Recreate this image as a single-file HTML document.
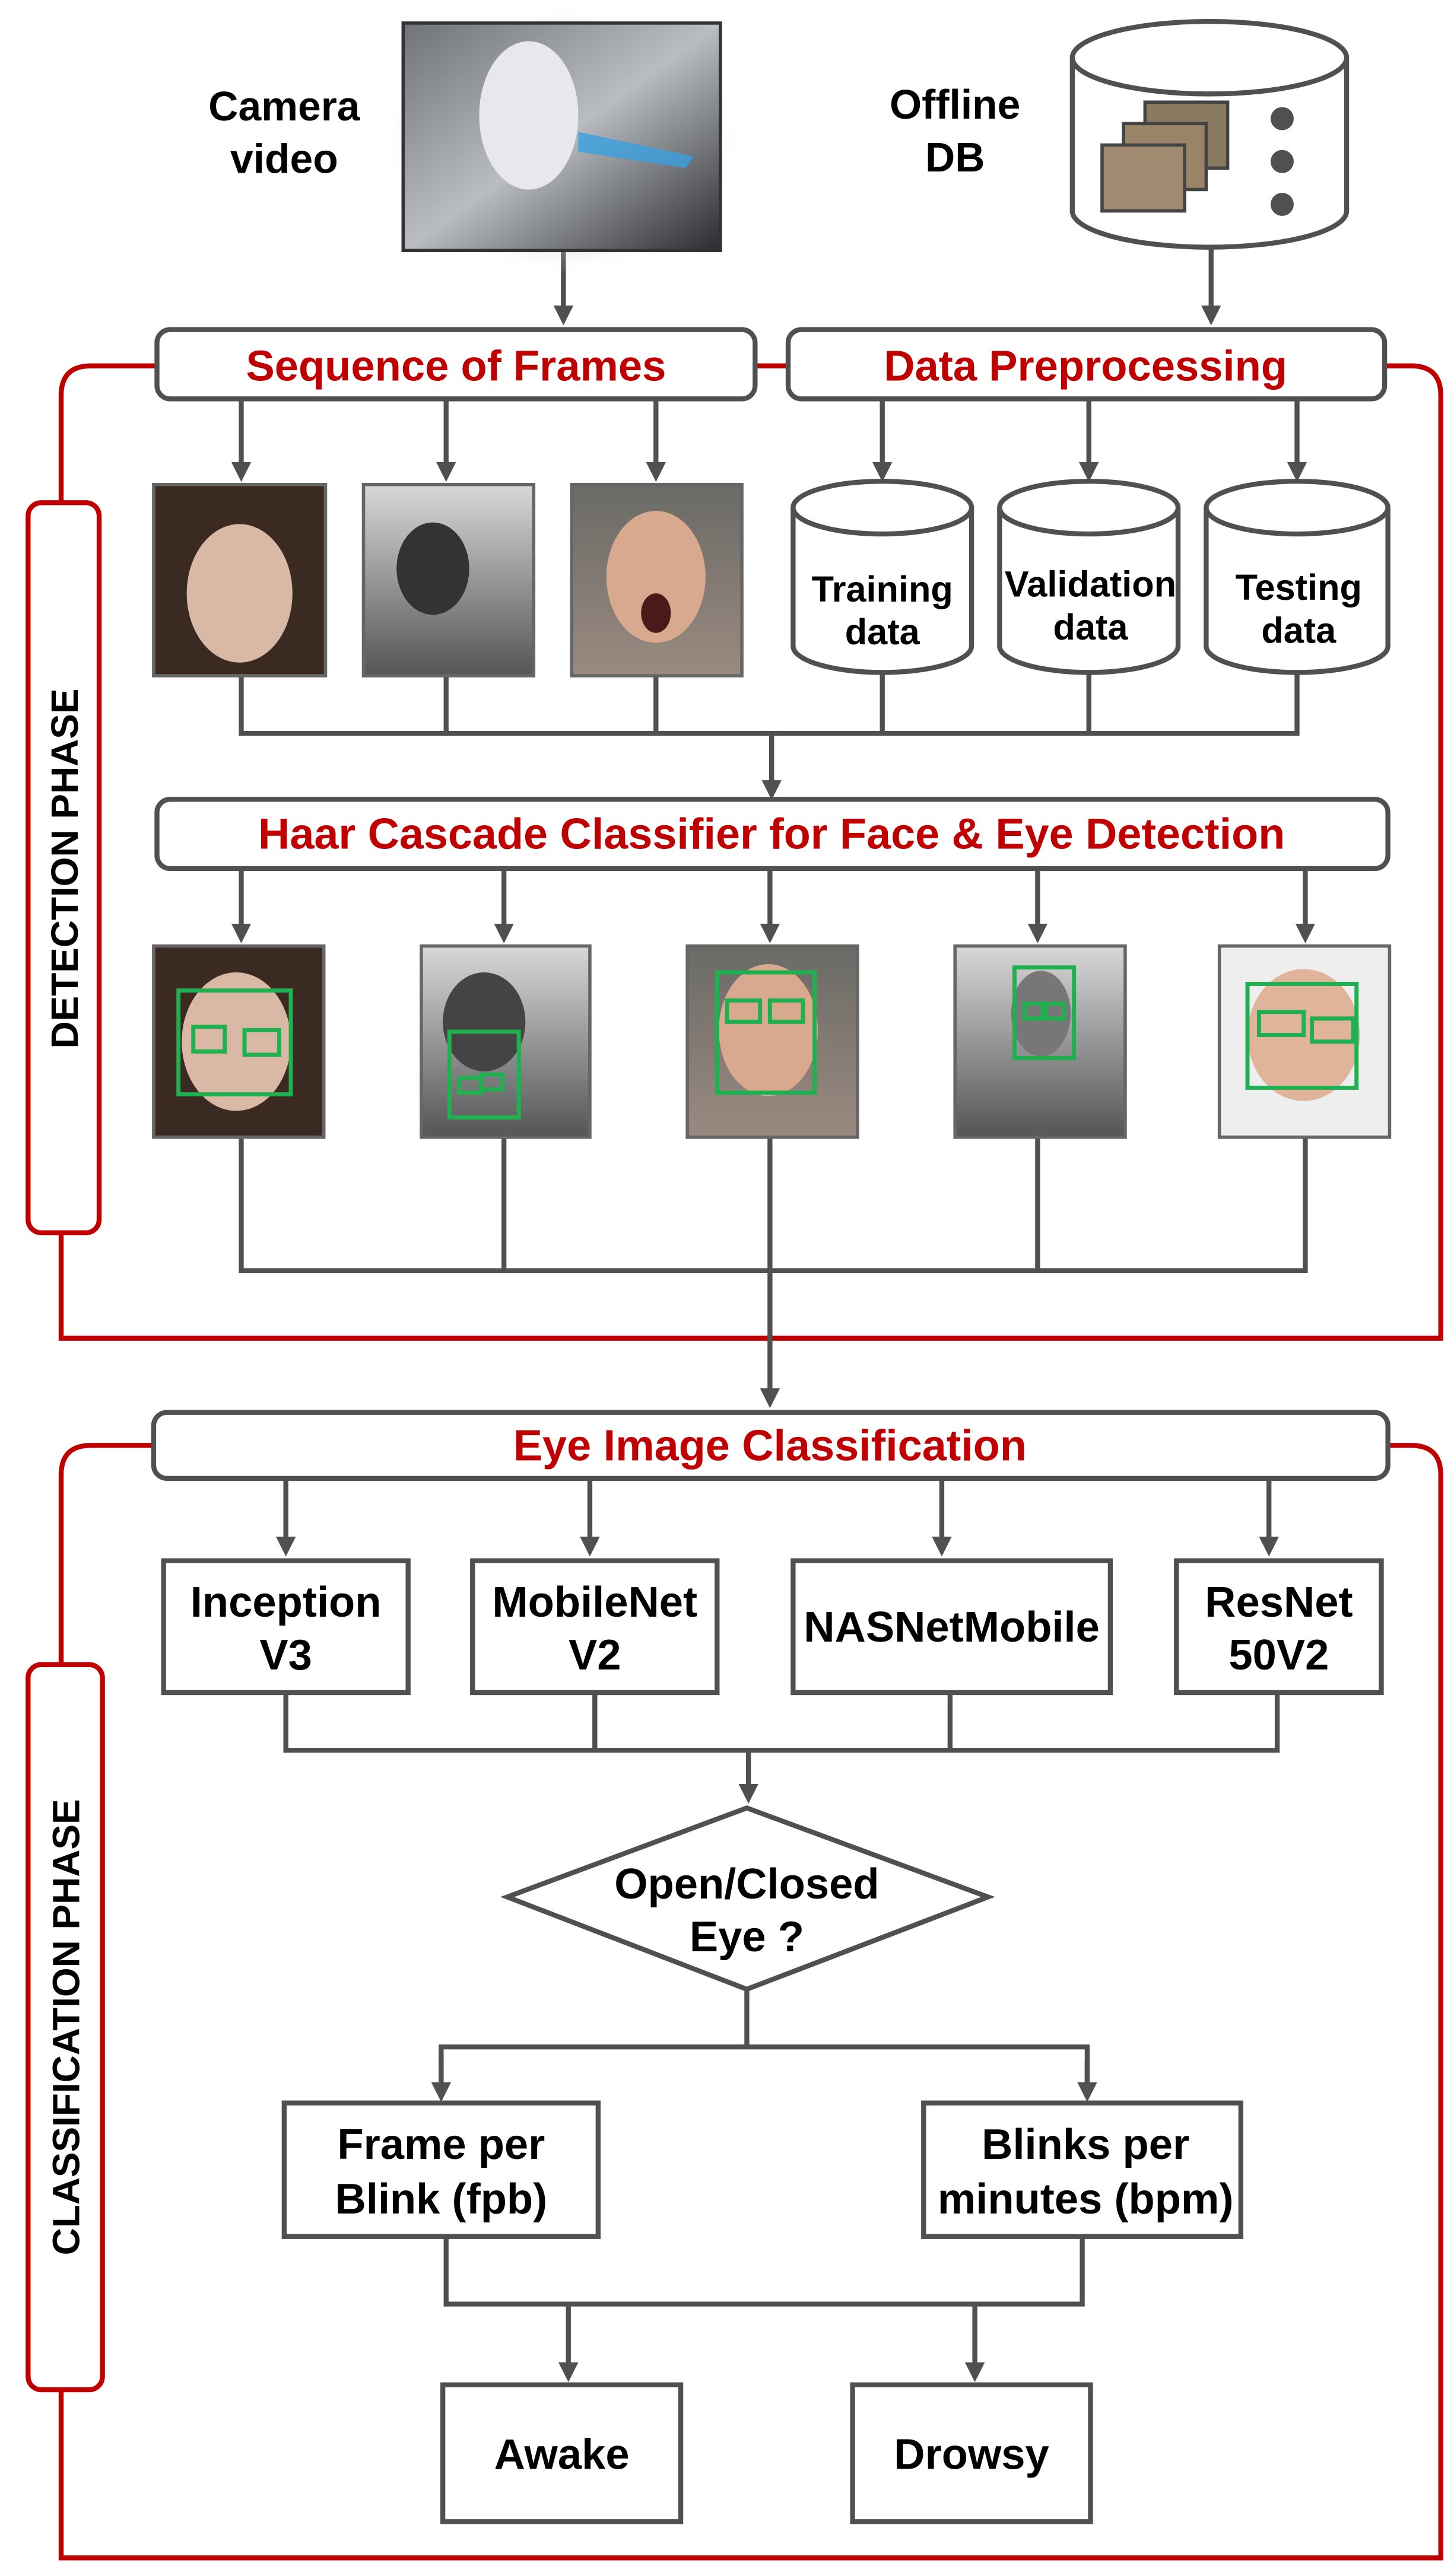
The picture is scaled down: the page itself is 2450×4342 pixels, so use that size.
<!DOCTYPE html>
<html><head><meta charset="utf-8"><style>
html,body{margin:0;padding:0;background:#fff;}
svg{display:block;}
text{font-family:"Liberation Sans",Arial,sans-serif;font-weight:bold;}
</style></head><body>
<svg width="2450" height="4342" viewBox="0 0 880 1563" preserveAspectRatio="none" xmlns="http://www.w3.org/2000/svg">
<defs>
<marker id="ah" markerWidth="4" markerHeight="4" refX="2.2" refY="2" orient="auto" markerUnits="strokeWidth">
<path d="M0,0 L4,2 L0,4 z" fill="#505050"/></marker>
<linearGradient id="cam" x1="0" y1="0" x2="1" y2="1"><stop offset="0" stop-color="#6f7378"/><stop offset="0.5" stop-color="#b9bcc0"/><stop offset="1" stop-color="#2a2c30"/></linearGradient>
<radialGradient id="sh"><stop offset="0.6" stop-color="#888"/><stop offset="1" stop-color="#fff" stop-opacity="0"/></radialGradient>
<linearGradient id="bw" x1="0" y1="0" x2="0" y2="1"><stop offset="0" stop-color="#d8d8d8"/><stop offset="1" stop-color="#555"/></linearGradient>
<linearGradient id="col" x1="0" y1="0" x2="0" y2="1"><stop offset="0" stop-color="#6a6a66"/><stop offset="1" stop-color="#9a8a80"/></linearGradient>
</defs>
<g stroke="#505050" stroke-width="3" fill="none">
<line x1="341" y1="152" x2="341" y2="192" marker-end="url(#ah)"/>
<line x1="733" y1="150" x2="733" y2="192" marker-end="url(#ah)"/>
</g>
<rect x="232" y="4" width="216" height="162" fill="url(#sh)" opacity="0.6"/>
<rect x="244" y="14" width="192" height="138" fill="url(#cam)" stroke="#333" stroke-width="2"/>
<ellipse cx="320" cy="70" rx="30" ry="45" fill="#e8e8ec"/>
<path d="M350 80 L420 95 L415 102 L350 92z" fill="#3aa0e0" opacity="0.8"/>
<text x="172" y="73" font-size="25" text-anchor="middle">Camera</text>
<text x="172" y="105" font-size="25" text-anchor="middle">video</text>
<path d="M649 35 L649 128 A83 22 0 0 0 815 128 L815 35" fill="#fff" stroke="#505050" stroke-width="3"/>
<ellipse cx="732" cy="35" rx="83" ry="22" fill="#fff" stroke="#505050" stroke-width="3"/>
<rect x="693" y="62" width="50" height="40" fill="#8a7a60" stroke="#444" stroke-width="2"/>
<rect x="680" y="75" width="50" height="40" fill="#9a8468" stroke="#444" stroke-width="2"/>
<rect x="667" y="88" width="50" height="40" fill="#a08a70" stroke="#444" stroke-width="2"/>
<circle cx="776" cy="72" r="7" fill="#505050"/><circle cx="776" cy="98" r="7" fill="#505050"/><circle cx="776" cy="124" r="7" fill="#505050"/>
<text x="578" y="72" font-size="25" text-anchor="middle">Offline</text>
<text x="578" y="104" font-size="25" text-anchor="middle">DB</text>
<path d="M95 222 L55 222 Q37 222 37 240 L37 812 L872 812 L872 240 Q872 222 854 222 L838 222 M457 222 L477 222" fill="none" stroke="#c00000" stroke-width="3"/>
<rect x="17" y="305" width="43" height="443" rx="8" fill="#fff" stroke="#c00000" stroke-width="3"/>
<text transform="translate(47,527) rotate(-90)" font-size="23" text-anchor="middle">DETECTION PHASE</text>
<rect x="95" y="200" width="362" height="42" rx="8" fill="#fff" stroke="#505050" stroke-width="3"/>
<rect x="477" y="200" width="361" height="42" rx="8" fill="#fff" stroke="#505050" stroke-width="3"/>
<text x="276" y="231" font-size="26" fill="#c00000" text-anchor="middle">Sequence of Frames</text>
<text x="657" y="231" font-size="26" fill="#c00000" text-anchor="middle">Data Preprocessing</text>
<g stroke="#505050" stroke-width="3" fill="none">
<line x1="146" y1="242" x2="146" y2="287" marker-end="url(#ah)"/>
<line x1="270" y1="242" x2="270" y2="287" marker-end="url(#ah)"/>
<line x1="397" y1="242" x2="397" y2="287" marker-end="url(#ah)"/>
<line x1="534" y1="242" x2="534" y2="287" marker-end="url(#ah)"/>
<line x1="659" y1="242" x2="659" y2="287" marker-end="url(#ah)"/>
<line x1="785" y1="242" x2="785" y2="287" marker-end="url(#ah)"/>
<polyline points="146,410 146,445 785,445 785,408"/>
<line x1="270" y1="410" x2="270" y2="445"/>
<line x1="397" y1="410" x2="397" y2="445"/>
<line x1="534" y1="408" x2="534" y2="445"/>
<line x1="659" y1="408" x2="659" y2="445"/>
<line x1="467" y1="445" x2="467" y2="480" marker-end="url(#ah)"/>
</g>
<rect x="93" y="294" width="104" height="116" fill="#3a2a22" stroke="#666" stroke-width="2"/>
<ellipse cx="145" cy="360" rx="32" ry="42" fill="#d9b9a6"/>
<rect x="220" y="294" width="103" height="116" fill="url(#bw)" stroke="#666" stroke-width="2"/>
<ellipse cx="262" cy="345" rx="22" ry="28" fill="#333"/>
<rect x="346" y="294" width="103" height="116" fill="url(#col)" stroke="#666" stroke-width="2"/>
<ellipse cx="397" cy="350" rx="30" ry="40" fill="#d8a98e"/><ellipse cx="397" cy="372" rx="9" ry="12" fill="#4a1a1a"/>
<g stroke="#505050" stroke-width="3" fill="#fff">
<path d="M480 308 L480 392 A54 16 0 0 0 588 392 L588 308"/><ellipse cx="534" cy="308" rx="54" ry="16"/>
<path d="M605 308 L605 392 A54 16 0 0 0 713 392 L713 308"/><ellipse cx="659" cy="308" rx="54" ry="16"/>
<path d="M730 308 L730 392 A55 16 0 0 0 840 392 L840 308"/><ellipse cx="785" cy="308" rx="55" ry="16"/>
</g>
<g font-size="22" text-anchor="middle">
<text x="534" y="365">Training</text><text x="534" y="391">data</text>
<text x="660" y="362">Validation</text><text x="660" y="388">data</text>
<text x="786" y="364">Testing</text><text x="786" y="390">data</text>
</g>
<rect x="95" y="485" width="745" height="42" rx="8" fill="#fff" stroke="#505050" stroke-width="3"/>
<text x="467" y="515" font-size="26.5" fill="#c00000" text-anchor="middle">Haar Cascade Classifier for Face &amp; Eye Detection</text>
<g stroke="#505050" stroke-width="3" fill="none">
<line x1="146" y1="527" x2="146" y2="567" marker-end="url(#ah)"/>
<line x1="305" y1="527" x2="305" y2="567" marker-end="url(#ah)"/>
<line x1="466" y1="527" x2="466" y2="567" marker-end="url(#ah)"/>
<line x1="628" y1="527" x2="628" y2="567" marker-end="url(#ah)"/>
<line x1="790" y1="527" x2="790" y2="567" marker-end="url(#ah)"/>
<polyline points="146,690 146,771 790,771 790,690"/>
<line x1="305" y1="690" x2="305" y2="771"/>
<line x1="466" y1="690" x2="466" y2="771"/>
<line x1="628" y1="690" x2="628" y2="771"/>
<line x1="466" y1="771" x2="466" y2="849" marker-end="url(#ah)"/>
</g>
<rect x="93" y="574" width="103" height="116" fill="#3a2a22" stroke="#666" stroke-width="2"/>
<ellipse cx="143" cy="632" rx="33" ry="42" fill="#d9b9a6"/>
<rect x="255" y="574" width="102" height="116" fill="url(#bw)" stroke="#666" stroke-width="2"/>
<ellipse cx="293" cy="620" rx="25" ry="30" fill="#444"/>
<rect x="416" y="574" width="103" height="116" fill="url(#col)" stroke="#666" stroke-width="2"/>
<ellipse cx="465" cy="625" rx="30" ry="40" fill="#d8a98e"/>
<rect x="578" y="574" width="103" height="116" fill="url(#bw)" stroke="#666" stroke-width="2"/>
<ellipse cx="630" cy="615" rx="18" ry="26" fill="#777"/>
<rect x="738" y="574" width="103" height="116" fill="#eee" stroke="#666" stroke-width="2"/>
<ellipse cx="789" cy="628" rx="34" ry="40" fill="#e0b49a"/>
<g stroke="#1fb050" stroke-width="2.5" fill="none">
<rect x="108" y="601" width="68" height="63"/><rect x="117" y="623" width="19" height="15"/><rect x="148" y="625" width="21" height="15"/>
<rect x="272" y="626" width="42" height="52"/><rect x="278" y="654" width="13" height="9"/><rect x="291" y="652" width="13" height="9"/>
<rect x="434" y="590" width="59" height="73"/><rect x="440" y="607" width="20" height="13"/><rect x="466" y="607" width="20" height="13"/>
<rect x="614" y="587" width="36" height="55"/><rect x="620" y="609" width="11" height="9"/><rect x="633" y="609" width="11" height="9"/>
<rect x="755" y="597" width="66" height="63"/><rect x="762" y="614" width="27" height="14"/><rect x="794" y="618" width="25" height="14"/>
</g>
<path d="M93 877 L55 877 Q37 877 37 895 L37 1552 L872 1552 L872 895 Q872 877 854 877 L840 877" fill="none" stroke="#c00000" stroke-width="3"/>
<rect x="17" y="1010" width="45" height="440" rx="8" fill="#fff" stroke="#c00000" stroke-width="3"/>
<text transform="translate(48,1230) rotate(-90)" font-size="23" text-anchor="middle">CLASSIFICATION PHASE</text>
<rect x="93" y="857" width="747" height="40" rx="8" fill="#fff" stroke="#505050" stroke-width="3"/>
<text x="466" y="886" font-size="26.5" fill="#c00000" text-anchor="middle">Eye Image Classification</text>
<g stroke="#505050" stroke-width="3" fill="none">
<line x1="173" y1="897" x2="173" y2="939" marker-end="url(#ah)"/>
<line x1="357" y1="897" x2="357" y2="939" marker-end="url(#ah)"/>
<line x1="570" y1="897" x2="570" y2="939" marker-end="url(#ah)"/>
<line x1="768" y1="897" x2="768" y2="939" marker-end="url(#ah)"/>
<polyline points="173,1027 173,1062 773,1062 773,1027"/>
<line x1="360" y1="1027" x2="360" y2="1062"/>
<line x1="575" y1="1027" x2="575" y2="1062"/>
<line x1="453" y1="1062" x2="453" y2="1089" marker-end="url(#ah)"/>
<line x1="452" y1="1207" x2="452" y2="1242"/>
<polyline points="267,1270 267,1242 658,1242 658,1270"/>
<line x1="267" y1="1250" x2="267" y2="1270" marker-end="url(#ah)"/>
<line x1="658" y1="1250" x2="658" y2="1270" marker-end="url(#ah)"/>
<polyline points="270,1357 270,1398 655,1398 655,1357"/>
<line x1="344" y1="1398" x2="344" y2="1440" marker-end="url(#ah)"/>
<line x1="590" y1="1398" x2="590" y2="1440" marker-end="url(#ah)"/>
</g>
<g stroke="#505050" stroke-width="3" fill="#fff">
<rect x="99" y="947" width="148" height="80"/>
<rect x="286" y="947" width="148" height="80"/>
<rect x="480" y="947" width="192" height="80"/>
<rect x="712" y="947" width="124" height="80"/>
<polygon points="307,1151 452,1097 598,1151 452,1207"/>
<rect x="172" y="1276" width="190" height="81"/>
<rect x="559" y="1276" width="192" height="81"/>
<rect x="268" y="1447" width="144" height="83"/>
<rect x="516" y="1447" width="144" height="83"/>
</g>
<g font-size="26" text-anchor="middle">
<text x="173" y="981">Inception</text><text x="173" y="1013">V3</text>
<text x="360" y="981">MobileNet</text><text x="360" y="1013">V2</text>
<text x="576" y="996">NASNetMobile</text>
<text x="774" y="981">ResNet</text><text x="774" y="1013">50V2</text>
<text x="452" y="1152">Open/Closed</text><text x="452" y="1184">Eye ?</text>
<text x="267" y="1310">Frame per</text><text x="267" y="1343">Blink (fpb)</text>
<text x="657" y="1310">Blinks per</text><text x="657" y="1343">minutes (bpm)</text>
<text x="340" y="1498">Awake</text>
<text x="588" y="1498">Drowsy</text>
</g>
</svg>
</body></html>
